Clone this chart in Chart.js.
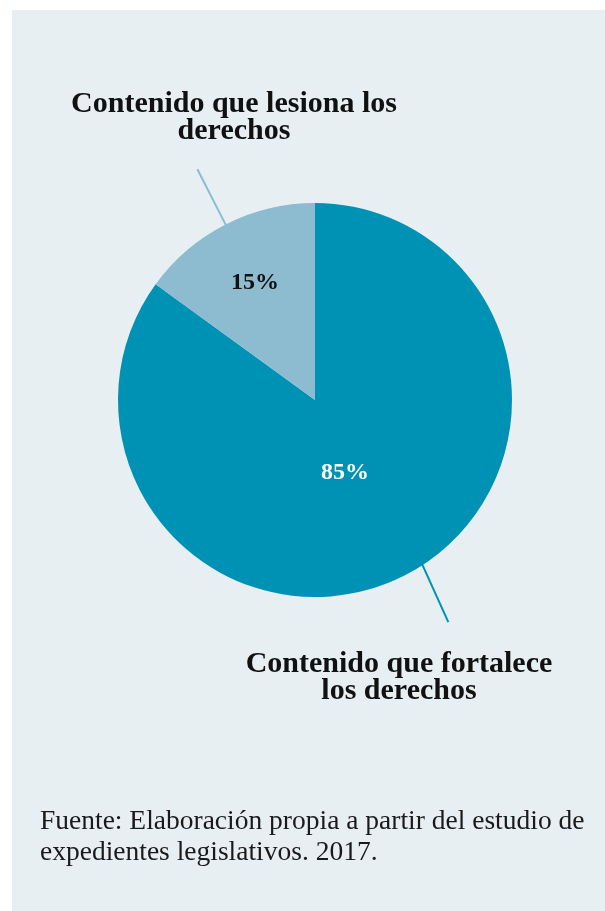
<!DOCTYPE html>
<html>
<head>
<meta charset="utf-8">
<script src="https://cdn.jsdelivr.net/npm/chart.js@4"></script>
<style>
  html, body { margin: 0; padding: 0; background: #ffffff; }
  #panel {
    position: absolute; left: 12px; top: 10px; width: 593px; height: 901px;
    background: #e8eff3;
  }
  #wrap { position: absolute; left: 0; top: 0; width: 605px; height: 911px; }
  .callout {
    position: absolute; margin: 0; text-align: center; color: #111111;
    font-family: "Liberation Serif", serif; font-weight: bold;
    font-size: 30px; line-height: 27px;
  }
  #source {
    position: absolute; left: 40px; top: 804px; margin: 0; color: #1a1a1a;
    font-family: "Liberation Serif", serif; font-size: 27.5px; line-height: 31px;
    white-space: nowrap;
  }
</style>
</head>
<body>
<div id="panel"></div>
<div id="wrap"><canvas id="pieChart"></canvas></div>
<p class="callout" style="left:39px; top:88px; width:390px;">Contenido que lesiona los<br>derechos</p>
<p class="callout" style="left:199px; top:648px; width:400px;">Contenido que fortalece<br>los derechos</p>
<p id="source">Fuente: Elaboración propia a partir del estudio de<br>expedientes legislativos. 2017.</p>

<script>
// ==================== DATA ====================
const categories = ['Contenido que fortalece los derechos', 'Contenido que lesiona los derechos'];
const shares = [85, 15];
const sliceColors = ['#0092b4', '#8dbbcf'];
const pctColors = ['#ffffff', '#111111'];

// where the percent label sits: fraction of the radius, and position along the arc (0..1)
const pctRadius = [0.4, 0.67];
const pctAlong = [0.515, 0.5];
// leader line: position along the arc (0..1) at its inner and outer end
const leaderStart = [0.48, 0.5];
const leaderEnd = [0.487, 0.5];

// ==================== LABEL + LEADER PLUGIN ====================
const pieAnnotations = {
  id: 'pieAnnotations',
  afterDatasetsDraw(chart) {
    const ctx = chart.ctx;
    const arcs = chart.getDatasetMeta(0).data;
    arcs.forEach((arc, i) => {
      const { x, y, startAngle, endAngle, outerRadius } = arc.getProps(
        ['x', 'y', 'startAngle', 'endAngle', 'outerRadius'], true);
      const span = endAngle - startAngle;

      // leader line out of the slice
      const a0 = startAngle + span * leaderStart[i];
      const a1 = startAngle + span * leaderEnd[i];
      const r1 = outerRadius * 1.315;
      ctx.save();
      ctx.strokeStyle = sliceColors[i];
      ctx.lineWidth = 2;
      ctx.beginPath();
      ctx.moveTo(x + Math.cos(a0) * (outerRadius - 1), y + Math.sin(a0) * (outerRadius - 1));
      ctx.lineTo(x + Math.cos(a1) * r1, y + Math.sin(a1) * r1);
      ctx.stroke();

      // percent label
      const am = startAngle + span * pctAlong[i];
      const rl = outerRadius * pctRadius[i];
      ctx.fillStyle = pctColors[i];
      ctx.font = 'bold 24px "Liberation Serif", serif';
      ctx.textAlign = 'center';
      ctx.textBaseline = 'middle';
      ctx.fillText(shares[i] + '%', x + Math.cos(am) * rl, y + Math.sin(am) * rl);
      ctx.restore();
    });
  }
};

// ==================== PIE CHART ====================
const ctx = document.getElementById('pieChart').getContext('2d');
new Chart(ctx, {
  type: 'pie',
  data: {
    labels: categories,
    datasets: [{
      data: shares,
      backgroundColor: sliceColors,
      borderWidth: 0
    }]
  },
  options: {
    responsive: true,
    maintainAspectRatio: false,
    animation: false,
    layout: { padding: { left: 118, right: 93, top: 203, bottom: 314 } },
    plugins: {
      legend: { display: false },
      tooltip: { enabled: false }
    }
  },
  plugins: [pieAnnotations]
});
</script>
</body>
</html>
